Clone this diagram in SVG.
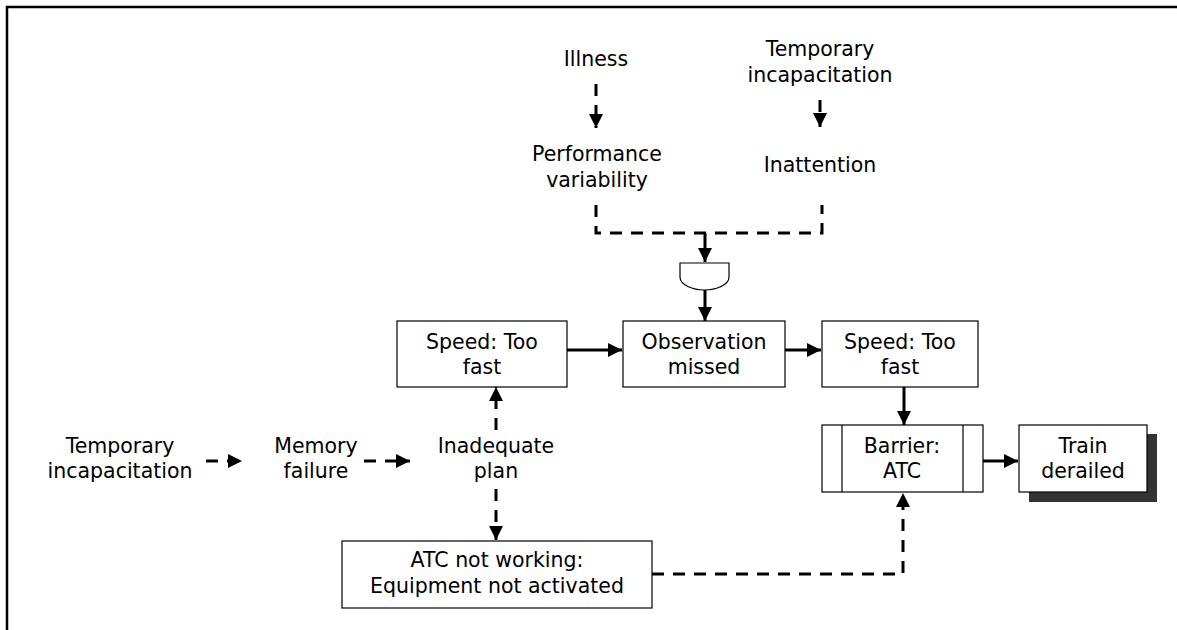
<svg xmlns="http://www.w3.org/2000/svg" width="1177" height="630" viewBox="0 0 1177 630">
  <defs>
    <marker id="head" markerUnits="userSpaceOnUse" markerWidth="18" markerHeight="18" viewBox="0 0 18 18" refX="16" refY="9" orient="auto">
      <path d="M2,2 L16,9 L2,16 Z" fill="#000"/>
    </marker>
    <style>
      text { font-family: "DejaVu Sans", "Open Sans", sans-serif; font-size: 20.5px; fill: #000; text-anchor: middle; }
      .box { fill: #fff; stroke: #000; stroke-width: 1.2; }
      .shadow { fill: #333; }
      .solid { fill: none; stroke: #000; stroke-width: 3; }
      .dash { fill: none; stroke: #000; stroke-width: 3; stroke-dasharray: 12 9; }
      .arrow { marker-end: url(#head); }
      .frame { fill: none; stroke: #000; stroke-width: 2.5; }
    </style>
  </defs>

  <rect width="1177" height="630" fill="#fff"/>
  <!-- frame -->
  <path class="frame" d="M7,630 V7 H1177"/>

  <!-- connectors -->
  <g id="connectors">
    <path class="dash arrow" d="M596,84 V128"/>
    <path class="dash arrow" d="M820,100 V127"/>
    <path class="dash" d="M596,205 V233 H822 V205"/>
    <path class="solid arrow" d="M705,233 V262"/>
    <path class="solid arrow" d="M705,290 V321"/>
    <path class="solid arrow" d="M567,350 H622"/>
    <path class="solid arrow" d="M785,350 H821"/>
    <path class="solid arrow" d="M904,387 V425"/>
    <path class="solid arrow" d="M983,461 H1018"/>
    <path class="dash arrow" d="M206,461 H242"/>
    <path class="dash arrow" d="M364,461 H410"/>
    <path class="dash arrow" d="M496,430 V387"/>
    <path class="dash arrow" d="M496,489 V540"/>
    <path class="dash arrow" d="M652,574 H903 V493"/>
  </g>

  <!-- AND gate -->
  <g id="and-gate">
    <path d="M680,263 H729 V277 C729,285 716,290 704.5,290 C693,290 680,285 680,277 Z" fill="#fff" stroke="#000" stroke-width="1.2"/>
  </g>

  <g id="illness"><text x="596" y="66">Illness</text></g>
  <g id="temp-incap-top">
    <text x="820" y="56">Temporary</text>
    <text x="820" y="82">incapacitation</text>
  </g>
  <g id="performance-variability">
    <text x="597" y="161">Performance</text>
    <text x="597" y="187">variability</text>
  </g>
  <g id="inattention"><text x="820" y="172">Inattention</text></g>

  <g id="speed-1">
    <rect class="box" x="397" y="321" width="170" height="66"/>
    <text x="482" y="349">Speed: Too</text>
    <text x="482" y="374">fast</text>
  </g>
  <g id="observation-missed">
    <rect class="box" x="623" y="321" width="162" height="66"/>
    <text x="704" y="349">Observation</text>
    <text x="704" y="374">missed</text>
  </g>
  <g id="speed-2">
    <rect class="box" x="822" y="321" width="156" height="66"/>
    <text x="900" y="349">Speed: Too</text>
    <text x="900" y="374">fast</text>
  </g>

  <g id="barrier-atc">
    <rect class="box" x="822" y="425" width="161" height="67"/>
    <line x1="842" y1="425" x2="842" y2="492" stroke="#000" stroke-width="1.2"/>
    <line x1="963" y1="425" x2="963" y2="492" stroke="#000" stroke-width="1.2"/>
    <text x="902" y="453">Barrier:</text>
    <text x="902" y="478">ATC</text>
  </g>
  <g id="train-derailed">
    <rect class="shadow" x="1029" y="434" width="128" height="68"/>
    <rect class="box" x="1019" y="425" width="128" height="67"/>
    <text x="1083" y="453">Train</text>
    <text x="1083" y="478">derailed</text>
  </g>

  <g id="temp-incap-left">
    <text x="120" y="453">Temporary</text>
    <text x="120" y="478">incapacitation</text>
  </g>
  <g id="memory-failure">
    <text x="316" y="453">Memory</text>
    <text x="316" y="478">failure</text>
  </g>
  <g id="inadequate-plan">
    <text x="496" y="453">Inadequate</text>
    <text x="496" y="478">plan</text>
  </g>

  <g id="atc-not-working">
    <rect class="box" x="342" y="541" width="310" height="67"/>
    <text x="497" y="567">ATC not working:</text>
    <text x="497" y="593">Equipment not activated</text>
  </g>
</svg>
